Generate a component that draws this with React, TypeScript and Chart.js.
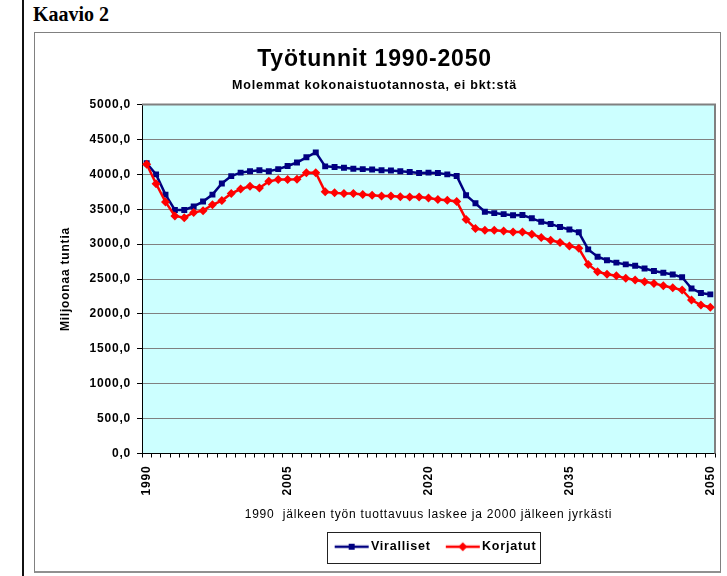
import React, { useEffect, useRef } from 'react';
import { Chart, registerables } from 'chart.js';

Chart.register(...registerables);

const years = [
  '1990', '1991', '1992', '1993', '1994', '1995', '1996', '1997', '1998', '1999',
  '2000', '2001', '2002', '2003', '2004', '2005', '2006', '2007', '2008', '2009',
  '2010', '2011', '2012', '2013', '2014', '2015', '2016', '2017', '2018', '2019',
  '2020', '2021', '2022', '2023', '2024', '2025', '2026', '2027', '2028', '2029',
  '2030', '2031', '2032', '2033', '2034', '2035', '2036', '2037', '2038', '2039',
  '2040', '2041', '2042', '2043', '2044', '2045', '2046', '2047', '2048', '2049',
  '2050',
];

const shownYears = ['1990', '2005', '2020', '2035', '2050'];

const viralliset = [
  4160, 4000, 3710, 3490, 3490, 3540, 3610, 3710, 3870, 3975,
  4025, 4045, 4060, 4045, 4075, 4120, 4170, 4245, 4315, 4115,
  4105, 4095, 4080, 4075, 4070, 4060, 4055, 4045, 4035, 4020,
  4025, 4020, 4000, 3978, 3700, 3585, 3465, 3445, 3430, 3415,
  3418, 3370, 3320, 3290, 3245, 3210, 3170, 2925, 2820, 2770,
  2735, 2710, 2690, 2650, 2615, 2590, 2565, 2525, 2365, 2300,
  2280,
];

const korjatut = [
  4145, 3865, 3605, 3405, 3380, 3455, 3480, 3565, 3625, 3725,
  3790, 3830, 3805, 3900, 3925, 3925, 3930, 4025, 4025, 3750,
  3735, 3725, 3725, 3710, 3700, 3690, 3690, 3678, 3676, 3675,
  3662, 3640, 3630, 3612, 3355, 3224, 3200, 3200, 3190, 3176,
  3176, 3143, 3095, 3057, 3025, 2975, 2940, 2710, 2605, 2570,
  2548, 2510, 2486, 2462, 2438, 2405, 2376, 2343, 2200, 2128,
  2095,
];

const yMin = 0;
const yMax = 5000;
const yStep = 500;

const FONT = 'Arial, "Liberation Sans", sans-serif';

function makeIcon(color: string, shape: 'square' | 'diamond'): HTMLCanvasElement {
  const c = document.createElement('canvas');
  c.width = 36;
  c.height = 12;
  const g = c.getContext('2d')!;
  g.strokeStyle = color;
  g.lineWidth = 2.5;
  g.beginPath();
  g.moveTo(1, 6);
  g.lineTo(35, 6);
  g.stroke();
  g.fillStyle = color;
  if (shape === 'square') {
    g.fillRect(15, 3, 6, 6);
  } else {
    g.beginPath();
    g.moveTo(18, 1.5);
    g.lineTo(22.5, 6);
    g.lineTo(18, 10.5);
    g.lineTo(13.5, 6);
    g.closePath();
    g.fill();
  }
  return c;
}

export default function App() {
  const canvasRef = useRef<HTMLCanvasElement | null>(null);

  useEffect(() => {
    const canvas = canvasRef.current;
    if (!canvas) return;
    const icons = [makeIcon('#000080', 'square'), makeIcon('#FF0000', 'diamond')];

    const spacingPlugin = {
      id: 'spacing',
      beforeUpdate(chart: any) {
        chart.ctx.letterSpacing = '0.8px';
      },
      afterLayout(chart: any) {
        const lg = chart.legend;
        if (lg) {
          lg.left += 9;
          lg.right += 9;
        }
      },
      beforeDraw(chart: any) {
        chart.ctx.letterSpacing = '0.8px';
        const { ctx, chartArea } = chart;
        ctx.save();
        ctx.fillStyle = '#CCFFFF';
        ctx.fillRect(chartArea.left, chartArea.top, chartArea.right - chartArea.left, chartArea.bottom - chartArea.top);
        ctx.restore();
      },
      beforeDatasetsDraw(chart: any) {
        const { ctx, chartArea } = chart;
        ctx.save();
        ctx.strokeStyle = '#808080';
        ctx.lineWidth = 2;
        ctx.beginPath();
        ctx.moveTo(chartArea.left, chartArea.top);
        ctx.lineTo(chartArea.right, chartArea.top);
        ctx.lineTo(chartArea.right, chartArea.bottom);
        ctx.stroke();
        ctx.restore();
      },
      afterDraw(chart: any) {
        const lg = chart.legend;
        if (!lg || !lg.legendHitBoxes || !lg.legendHitBoxes.length) return;
        const hb = lg.legendHitBoxes;
        const first = hb[0];
        const last = hb[hb.length - 1];
        const left = Math.round(first.left - 12);
        const right = Math.round(last.left + last.width + 4);
        const cy = first.top + first.height / 2;
        const { ctx } = chart;
        ctx.save();
        ctx.strokeStyle = '#222';
        ctx.lineWidth = 1;
        ctx.strokeRect(left + 0.5, Math.round(cy - 15) + 0.5, right - left, 31);
        ctx.restore();
      },
    };

    const chart = new Chart(canvas, {
      type: 'line',
      data: {
        labels: years,
        datasets: [
          {
            label: 'Viralliset',
            data: viralliset,
            borderColor: '#000080',
            backgroundColor: '#000080',
            borderWidth: 2.5,
            pointStyle: 'rect',
            pointRadius: 4.2,
            pointBorderWidth: 0,
            pointBackgroundColor: '#000080',
            tension: 0,
            order: 1,
          },
          {
            label: 'Korjatut',
            data: korjatut,
            borderColor: '#FF0000',
            backgroundColor: '#FF0000',
            borderWidth: 2.5,
            pointStyle: 'rectRot',
            pointRadius: 4.5,
            pointBorderWidth: 0,
            pointBackgroundColor: '#FF0000',
            tension: 0,
            order: 0,
          },
        ],
      },
      options: {
        responsive: false,
        animation: false,
        devicePixelRatio: 1,
        layout: { padding: { top: 3, bottom: 10, left: 0, right: 6 } },
        plugins: {
          tooltip: { enabled: false },
          title: {
            display: true,
            text: 'Työtunnit 1990-2050',
            color: '#000',
            font: { family: FONT, size: 23, weight: 'bold' },
            padding: { top: 11, bottom: 2 },
          },
          subtitle: {
            display: true,
            text: 'Molemmat kokonaistuotannosta, ei bkt:stä',
            color: '#000',
            font: { family: FONT, size: 12.5, weight: 'bold' },
            padding: { top: 2, bottom: 12 },
          },
          legend: {
            display: true,
            position: 'bottom',
            fullSize: false,
            labels: {
              usePointStyle: true,
              pointStyleWidth: 26,
              padding: 19,
              color: '#000',
              font: { family: FONT, size: 12.5, weight: 'bold' },
              sort: (a: any, b: any) => a.datasetIndex - b.datasetIndex,
              generateLabels: (ch: any) => {
                const items = (Chart.defaults.plugins.legend.labels as any).generateLabels(ch);
                return items.map((it: any) => ({ ...it, pointStyle: icons[it.datasetIndex] }));
              },
            },
          },
        },
        scales: {
          x: {
            type: 'category',
            offset: true,
            afterFit: (scale: any) => {
              scale.height = 68;
              scale.paddingLeft = 0;
              scale.paddingRight = 0;
            },
            grid: {
              display: true,
              drawOnChartArea: false,
              drawTicks: true,
              tickLength: 4,
              tickColor: '#000',
              offset: true,
            },
            border: { display: true, color: '#000', width: 1 },
            ticks: {
              autoSkip: false,
              minRotation: 90,
              maxRotation: 90,
              padding: 8,
              color: '#000',
              font: { family: FONT, size: 12, weight: 'bold' },
              callback: function (this: any, _v: any, index: number) {
                const lab = years[index];
                return shownYears.includes(lab) ? lab : '';
              },
            },
            title: {
              display: true,
              text: '1990  jälkeen työn tuottavuus laskee ja 2000 jälkeen jyrkästi',
              color: '#000',
              font: { family: FONT, size: 12, weight: 'normal' },
              padding: { top: 4, bottom: 0 },
            },
          },
          y: {
            type: 'linear',
            min: yMin,
            max: yMax,
            afterFit: (scale: any) => {
              scale.width = 108;
            },
            grid: {
              display: true,
              color: '#808080',
              lineWidth: 1,
              drawTicks: true,
              tickLength: 5,
              tickColor: '#000',
            },
            border: { display: true, color: '#000', width: 1 },
            ticks: {
              stepSize: yStep,
              padding: 6,
              color: '#000',
              font: { family: FONT, size: 12, weight: 'bold' },
              callback: (v: any) => Number(v).toFixed(1).replace('.', ','),
            },
            title: {
              display: true,
              text: 'Miljoonaa tuntia',
              color: '#000',
              font: { family: FONT, size: 12, weight: 'bold' },
              padding: { top: 24, bottom: 0 },
            },
          },
        },
      },
      plugins: [spacingPlugin],
    } as any);

    return () => {
      chart.destroy();
    };
  }, []);

  return (
    <div style={{ position: 'absolute', left: 0, top: 0, width: 727, height: 576, background: '#fff', overflow: 'hidden' }}>
      <div style={{ position: 'absolute', left: 22, top: 0, width: 2, height: 576, background: '#111' }} />
      <div
        style={{
          position: 'absolute',
          left: 33,
          top: 3,
          fontFamily: '"Liberation Serif", "Times New Roman", serif',
          fontWeight: 'bold',
          fontSize: 20,
          lineHeight: '22px',
          color: '#000',
          whiteSpace: 'nowrap',
        }}
      >
        Kaavio 2
      </div>
      <div
        style={{
          position: 'absolute',
          left: 34,
          top: 32,
          width: 687,
          height: 541,
          boxSizing: 'border-box',
          borderTop: '1px solid #808080',
          borderLeft: '1px solid #808080',
          borderRight: '1px solid #808080',
          borderBottom: '2px solid #909090',
        }}
      />
      <canvas
        ref={canvasRef}
        width={687}
        height={541}
        style={{ position: 'absolute', left: 34, top: 32, width: 687, height: 541 }}
      />
    </div>
  );
}
